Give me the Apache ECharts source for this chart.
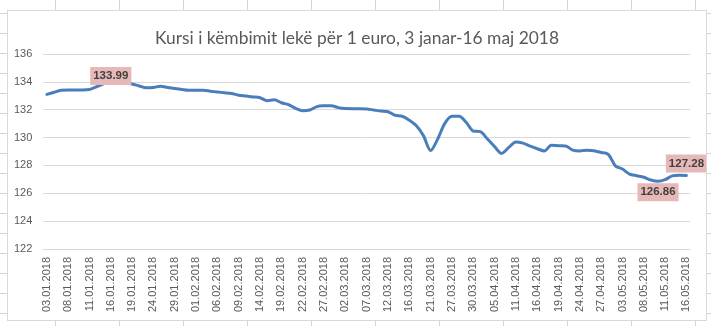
<!DOCTYPE html>
<html>
<head>
<meta charset="utf-8">
<script src="https://cdn.jsdelivr.net/npm/echarts@6/dist/echarts.min.js"></script>
<style>
  html, body {
    margin: 0;
    padding: 0;
    width: 711px;
    height: 326px;
    overflow: hidden;
    background-color: #ffffff;
    /* worksheet cell grid behind the chart object */
    background-image:
      linear-gradient(to right, #d4d4d4 0, #d4d4d4 1px, transparent 1px),
      linear-gradient(to bottom, #d4d4d4 0, #d4d4d4 1px, transparent 1px);
    background-size: 64px 20px;
    background-position: 55px 13px;
  }
  #frame {
    position: absolute;
    left: 7px;
    top: 10px;
    width: 698px;
    height: 309px;
    border: 1px solid #d9d9d9;
    background: #ffffff;
  }
  #chart { width: 698px; height: 309px; }
</style>
</head>
<body>
<div id="frame"><div id="chart"></div></div>
<script>
// Trading days (dd.mm.yyyy), 3 January – 16 May 2018
const dates = [
  '03.01.2018','04.01.2018','05.01.2018','08.01.2018','09.01.2018','10.01.2018','11.01.2018','12.01.2018',
  '15.01.2018','16.01.2018','17.01.2018','18.01.2018','19.01.2018','22.01.2018','23.01.2018','24.01.2018',
  '25.01.2018','26.01.2018','29.01.2018','30.01.2018','31.01.2018',
  '01.02.2018','02.02.2018','05.02.2018','06.02.2018','07.02.2018','08.02.2018','09.02.2018','12.02.2018',
  '13.02.2018','14.02.2018','15.02.2018','16.02.2018','19.02.2018','20.02.2018','21.02.2018','22.02.2018',
  '23.02.2018','26.02.2018','27.02.2018','28.02.2018',
  '01.03.2018','02.03.2018','05.03.2018','06.03.2018','07.03.2018','08.03.2018','09.03.2018','12.03.2018',
  '13.03.2018','15.03.2018','16.03.2018','19.03.2018','20.03.2018','21.03.2018','23.03.2018','26.03.2018',
  '27.03.2018','28.03.2018','29.03.2018','30.03.2018',
  '03.04.2018','04.04.2018','05.04.2018','06.04.2018','10.04.2018','11.04.2018','12.04.2018','13.04.2018',
  '16.04.2018','17.04.2018','18.04.2018','19.04.2018','20.04.2018','23.04.2018','24.04.2018','25.04.2018',
  '26.04.2018','27.04.2018','30.04.2018',
  '02.05.2018','03.05.2018','04.05.2018','07.05.2018','08.05.2018','09.05.2018','10.05.2018','11.05.2018',
  '14.05.2018','15.05.2018','16.05.2018'
];

// Lek per 1 euro, one value per trading day
const rateJan = [133.10, 133.25, 133.40, 133.42, 133.42, 133.42, 133.45, 133.65, 133.85, 133.99,
                 133.95, 133.92, 133.85, 133.70, 133.57, 133.60, 133.69, 133.60, 133.52, 133.45, 133.40];
const rateFeb = [133.40, 133.40, 133.33, 133.27, 133.22, 133.16, 133.04, 132.98, 132.92, 132.86,
                 132.65, 132.71, 132.50, 132.36, 132.10, 131.93, 131.98, 132.22, 132.28, 132.29];
const rateMar = [132.15, 132.08, 132.07, 132.07, 132.06, 131.98, 131.90, 131.85, 131.60, 131.53,
                 131.25, 130.85, 130.13, 129.07, 129.90, 131.02, 131.53, 131.53, 131.10, 130.47];
const rateApr = [130.42, 129.90, 129.35, 128.86, 129.29, 129.69, 129.60, 129.38, 129.20, 129.04,
                 129.45, 129.42, 129.40, 129.10, 129.04, 129.09, 129.05, 128.93, 128.80];
const rateMay = [127.97, 127.74, 127.38, 127.26, 127.15, 126.95, 126.86, 126.98, 127.25, 127.30, 127.28];

const rates = [].concat(rateJan, rateFeb, rateMar, rateApr, rateMay);

// Value axis ticks
const yTicks = [122, 124, 126, 128, 130, 132, 134, 136];

// Days whose value is written on the line: [date, label placement, gap]
const callouts = [
  ['16.01.2018', 'top', -3],
  ['10.05.2018', 'bottom', 2],
  ['16.05.2018', 'top', 3]
];

const labelFont = "'Liberation Sans', Arial, sans-serif";

const seriesData = rates.map(function (v, i) {
  const c = callouts.find(function (d) { return d[0] === dates[i]; });
  if (!c) return v;
  return {
    value: v,
    label: {
      show: true,
      position: c[1],
      distance: c[2],
      formatter: function (p) { return p.value.toFixed(2); },
      backgroundColor: '#e6b9b8',
      color: '#404040',
      fontFamily: labelFont,
      fontWeight: 'bold',
      fontSize: 11.5,
      lineHeight: 14,
      padding: [2, 3, 2, 3]
    }
  };
});

const chart = echarts.init(document.getElementById('chart'), null, { renderer: 'canvas' });

chart.setOption({
  animation: false,
  backgroundColor: '#ffffff',
  title: {
    text: 'Kursi i këmbimit lekë për 1 euro, 3 janar-16 maj 2018',
    left: 'center',
    top: 14,
    textStyle: {
      fontFamily: 'Lato, sans-serif',
      fontWeight: 'normal',
      fontSize: 17.4,
      color: '#595959'
    }
  },
  grid: { left: 35.3, right: 16, top: 43, bottom: 71, containLabel: false },
  xAxis: {
    type: 'category',
    data: dates,
    boundaryGap: true,
    axisLine: { lineStyle: { color: '#d9d9d9', width: 1 } },
    axisTick: { show: false },
    axisLabel: {
      interval: 2,
      rotate: 90,
      margin: 8,
      color: '#595959',
      fontFamily: labelFont,
      fontSize: 11
    },
    splitLine: { show: false }
  },
  yAxis: {
    type: 'value',
    min: yTicks[0],
    max: yTicks[yTicks.length - 1],
    interval: yTicks[1] - yTicks[0],
    axisLine: { show: false },
    axisTick: { show: false },
    axisLabel: {
      margin: 11,
      color: '#595959',
      fontFamily: labelFont,
      fontSize: 11
    },
    splitLine: { lineStyle: { color: '#d9d9d9', width: 1 } }
  },
  series: [{
    type: 'line',
    data: seriesData,
    smooth: 0.3,
    symbol: 'circle',
    symbolSize: 0,
    showSymbol: true,
    showAllSymbol: true,
    lineStyle: { color: '#4a7ebb', width: 3, cap: 'round', join: 'round' },
    itemStyle: { color: '#4a7ebb' },
    emphasis: { disabled: true },
    z: 3
  }]
});
</script>
</body>
</html>
